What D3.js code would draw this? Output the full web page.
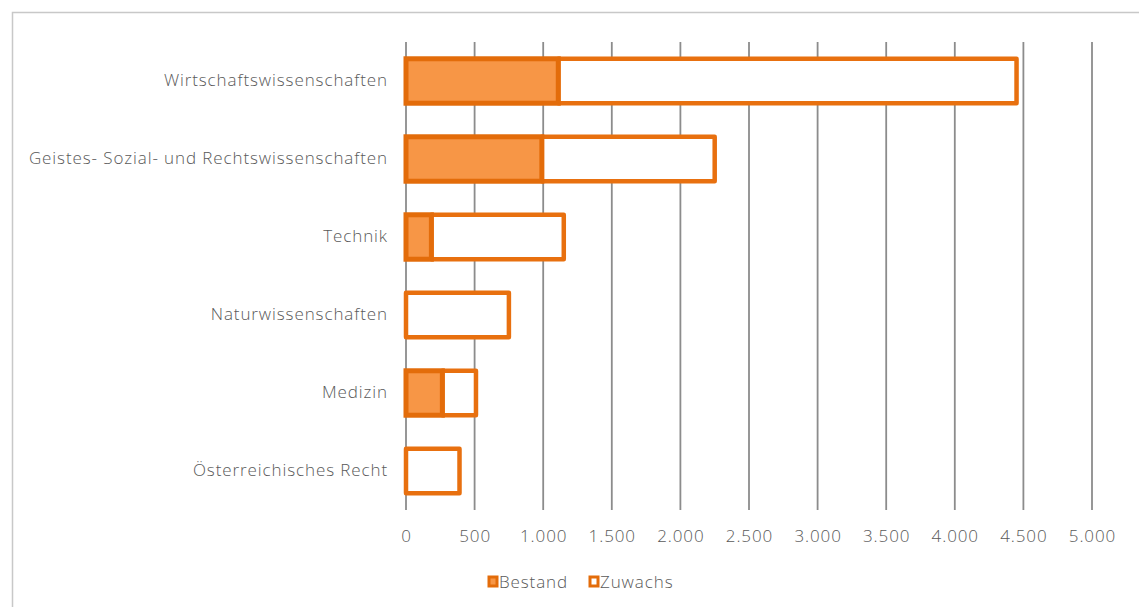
<!DOCTYPE html>
<html><head><meta charset="utf-8">
<script src="https://cdn.jsdelivr.net/npm/d3@7"></script>
<style>
html,body{margin:0;padding:0;background:#fff;}
svg text{font-family:"Open Sans","Noto Sans",sans-serif;font-weight:300;fill:#595959;letter-spacing:0.9px;}
</style></head>
<body><svg id="c" width="1139" height="607"></svg>
<script>
const categories = ["Wirtschaftswissenschaften","Geistes- Sozial- und Rechtswissenschaften","Technik","Naturwissenschaften","Medizin","Österreichisches Recht"];
const bestand = [1110, 990, 185, 0, 265, 0];
const zuwachs = [3340, 1260, 965, 750, 245, 390];
const seriesNames = ["Bestand","Zuwachs"];
const tickValues = [0,500,1000,1500,2000,2500,3000,3500,4000,4500,5000];

(function(){
const svg = d3.select("#c");
const pL = 406, pR = 1092, pT = 42, pB = 510;
const FS = "17px";
const x = d3.scaleLinear().domain([0,5000]).range([pL,pR]);
const y = d3.scaleBand().domain(categories).range([pT,pB]).paddingInner(0.43).paddingOuter(0.215);

// border
svg.append("rect").attr("x",12.5).attr("y",12.5).attr("width",1200).attr("height",700)
  .attr("fill","none").attr("stroke","#c8c8c8").attr("stroke-width",1.5);

// gridlines
svg.append("g").selectAll("line").data(tickValues).join("line")
  .attr("x1",d=>x(d)).attr("x2",d=>x(d)).attr("y1",pT).attr("y2",pB)
  .attr("stroke","#8c8c8c").attr("stroke-width",1.8);

// x axis labels
const fmt = d3.formatLocale({decimal:",",thousands:".",grouping:[3],currency:["","€"]}).format(",.0f");
const xAxis = d3.axisBottom(x).tickValues(tickValues).tickFormat(fmt).tickSize(0).tickPadding(0);
const gx = svg.append("g").attr("transform",`translate(0,${pB})`).call(xAxis);
gx.select(".domain").remove();
gx.selectAll("text").attr("dy",null).attr("y",32).style("font-size",FS).attr("fill","#595959");

// y axis labels
const yAxis = d3.axisLeft(y).tickSize(0).tickPadding(0);
const gy = svg.append("g").attr("transform",`translate(388,0)`).call(yAxis);
gy.select(".domain").remove();
gy.selectAll("text").style("font-size",FS).attr("fill","#595959");

// bars
const data = categories.map((c,i)=>({c, b:bestand[i], z:zuwachs[i]}));
const g = svg.append("g");
g.selectAll("rect.z").data(data).join("rect").attr("class","z")
  .attr("x",d=>x(d.b)).attr("width",d=>x(d.b+d.z)-x(d.b))
  .attr("y",d=>y(d.c)).attr("height",y.bandwidth())
  .attr("fill","#fff").attr("stroke","#E8700F").attr("stroke-width",4.5).attr("stroke-linejoin","round");
g.selectAll("rect.b").data(data.filter(d=>d.b>0)).join("rect").attr("class","b")
  .attr("x",d=>x(0)).attr("width",d=>x(d.b)-x(0))
  .attr("y",d=>y(d.c)).attr("height",y.bandwidth())
  .attr("fill","#F79646").attr("stroke","#E36C0A").attr("stroke-width",5);

// legend
const lg = svg.append("g").attr("transform","translate(0,582)");
const items = [{n:seriesNames[0],x:487,fill:"#F79646"},{n:seriesNames[1],x:588,fill:"#fff"}];
items.forEach(it=>{
  lg.append("rect").attr("x",it.x+2).attr("y",-5).attr("width",8).attr("height",9)
    .attr("fill",it.fill).attr("stroke","#E36C0A").attr("stroke-width",3);
  lg.append("text").attr("x",it.x+12).attr("y",0).attr("dy","0.35em").style("font-size",FS).text(it.n);
});
})();
</script></body></html>
